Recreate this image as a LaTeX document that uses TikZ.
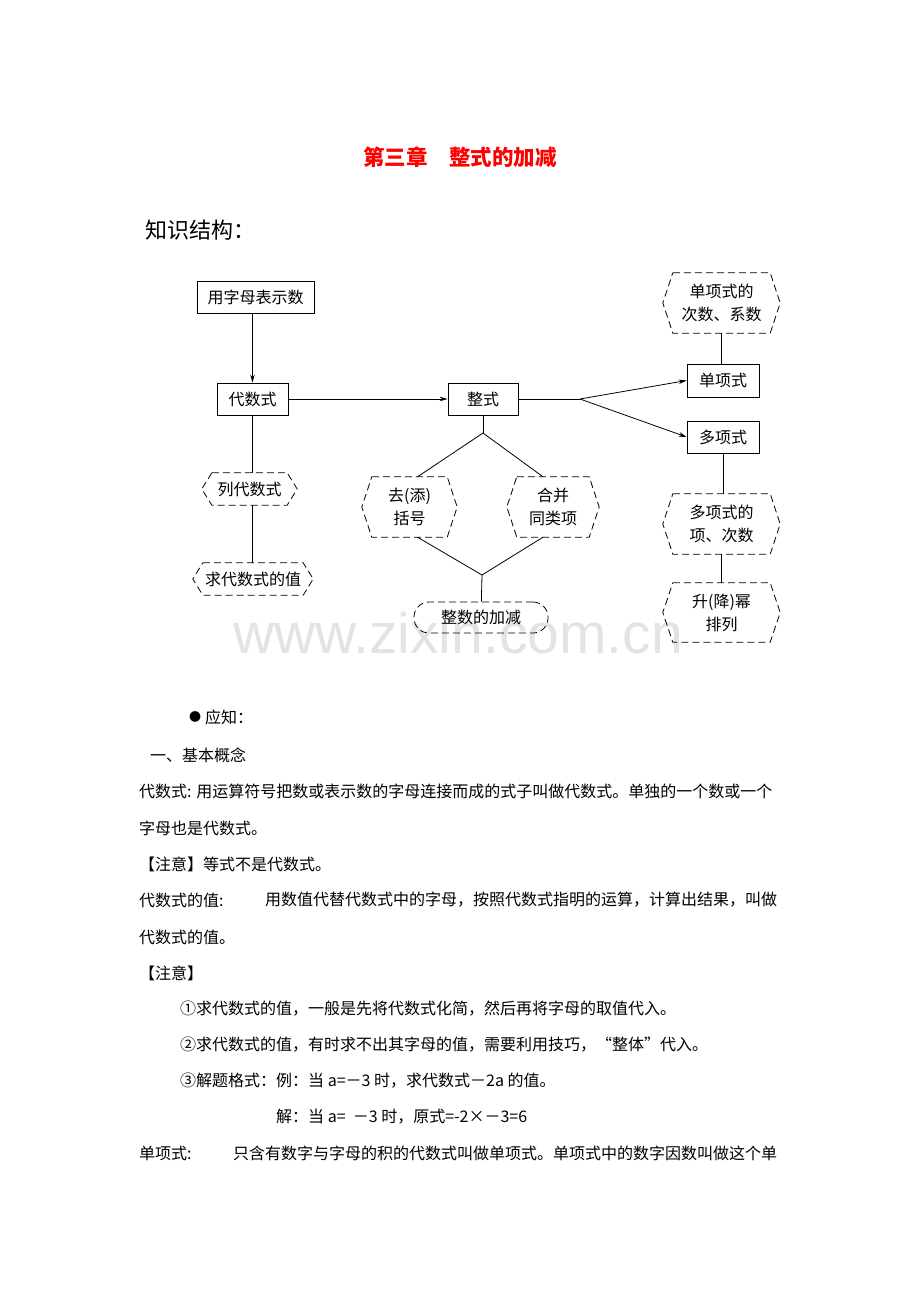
\documentclass[tikz,border=0pt]{standalone}
\usepackage{fontspec}
\setmainfont{Noto Sans CJK SC}
\newfontfamily\wmfont{Liberation Sans}
\usetikzlibrary{arrows.meta}

\begin{document}
\begin{tikzpicture}[x=1pt,y=-1pt,
  every node/.style={inner sep=0pt,font=\fontsize{16}{23}\selectfont},
  box/.style={draw,line width=0.8pt,minimum height=32pt},
  hexa/.style={align=center},
  broken/.style={dash pattern=on 7pt off 4pt},
  link/.style={line width=0.8pt},
  arr/.style={line width=0.8pt,-{Stealth[length=8pt,width=4.5pt]}},
  hang/.style={anchor=west}]
\useasboundingbox (0,0) rectangle (920,1302);

% watermark
\node[text=gray!22,font=\fontsize{57}{60}\selectfont\wmfont] (wm) at (458,633) {www.zixin.com.cn};

% title
\node[text=red,font=\fontsize{21.5}{24}\selectfont\bfseries] (title) at (460,157) {第三章　整式的加减};
\node[hang,font=\fontsize{22}{24}\selectfont] (jiegou) at (145,230) {知识结构：};

% boxes
\node[box,minimum width=117pt] (zimu) at (255.5,297) {用字母表示数};
\node[box,minimum width=71pt] (daishu) at (252.5,399) {代数式};
\node[box,minimum width=70pt] (zhengshi) at (483,399) {整式};
\node[box,minimum width=72pt,minimum height=33pt] (danxiang) at (723,380.5) {单项式};
\node[box,minimum width=72pt] (duoxiang) at (723,437) {多项式};
\node[box,broken,rounded corners=15pt,minimum width=134pt,minimum height=31pt] (jiajian) at (481,617.5) {整数的加减};

% hexagons
\node[hexa,minimum width=97pt,minimum height=60pt] (xishu) at (721.5,303) {单项式的\\次数、系数};
\node[hexa,minimum width=97pt,minimum height=60pt] (xiangci) at (721.5,524) {多项式的\\项、次数};
\node[hexa,minimum width=97pt,minimum height=59pt] (paili) at (721.5,612.5) {升(降)幂\\排列};
\node[hexa,minimum width=75pt,minimum height=32pt] (liedai) at (249.5,489) {列代数式};
\node[hexa,minimum width=100pt,minimum height=32pt] (qiuzhi) at (253,579) {求代数式的值};
\node[hexa,minimum width=75pt,minimum height=60pt] (qukuo) at (409.5,507) {去(添)\\括号};
\node[hexa,minimum width=72pt,minimum height=60pt] (hebing) at (553,507) {合并\\同类项};

\foreach \h in {xishu,xiangci,paili,liedai,qiuzhi,qukuo,hebing}{
  \draw[link,broken] (\h.north west) -- (\h.north east) -- ([xshift=10pt]\h.east) -- (\h.south east) -- (\h.south west) -- ([xshift=-10pt]\h.west) -- cycle;
};

% connectors
\coordinate (fen) at (580,399);
\coordinate (shang) at (483,433);
\coordinate (xia) at (482,575);
\draw[arr] (zimu.south -| daishu) -- (daishu.north);
\draw[arr] (daishu) -- (zhengshi);
\draw[link] (zhengshi) -- (fen);
\draw[arr] (fen) -- (danxiang.west);
\draw[arr] (fen) -- (duoxiang.west);
\draw[link] (xishu.south) -- (xishu.south |- danxiang.north);
\draw[link] (duoxiang.south) -- (duoxiang.south |- xiangci.north);
\draw[link] (xiangci) -- (paili);
\draw[link] (daishu) -- (daishu |- liedai.north);
\draw[link] (liedai.south -| daishu) -- (daishu |- qiuzhi.north);
\draw[link] (zhengshi) -- (shang);
\draw[link] (shang) -- ([xshift=8pt]qukuo.north);
\draw[link] (shang) -- ([xshift=-10pt]hebing.north);
\draw[link] ([xshift=8pt]qukuo.south) -- (xia) -- ([xshift=-10pt]hebing.south);
\draw[link] (xia) -- (jiajian);

% text below
\node[hang,font=\fontsize{12}{14}\selectfont] (dot) at (189,717) {●};
\node[hang] (yingzhi) at (205,717) {应知：};
\node[hang] (gainian) at (150,755) {一、基本概念};
\node[hang] (l1) at (139,791) {代数式: 用运算符号把数或表示数的字母连接而成的式子叫做代数式。单独的一个数或一个};
\node[hang] (l2) at (139,828) {字母也是代数式。};
\node[hang] (l3) at (139,864) {【注意】等式不是代数式。};
\node[hang] (l4a) at (139,900) {代数式的值:};
\node[hang] (l4b) at (265,900) {用数值代替代数式中的字母，按照代数式指明的运算，计算出结果，叫做};
\node[hang] (l5) at (139,937) {代数式的值。};
\node[hang] (l6) at (139,973) {【注意】};
\node[hang] (l7) at (180,1009) {①求代数式的值，一般是先将代数式化简，然后再将字母的取值代入。};
\node[hang] (l8) at (180,1045) {②求代数式的值，有时求不出其字母的值，需要利用技巧，“整体”代入。};
\node[hang] (l9) at (180,1081) {③解题格式：例：当 a=－3 时，求代数式－2a 的值。};
\node[hang] (l10) at (276,1117) {解：当 a=\ \ －3 时，原式=-2×－3=6};
\node[hang] (l11a) at (139,1153) {单项式:};
\node[hang] (l11b) at (233,1153) {只含有数字与字母的积的代数式叫做单项式。单项式中的数字因数叫做这个单};

\end{tikzpicture}
\end{document}
